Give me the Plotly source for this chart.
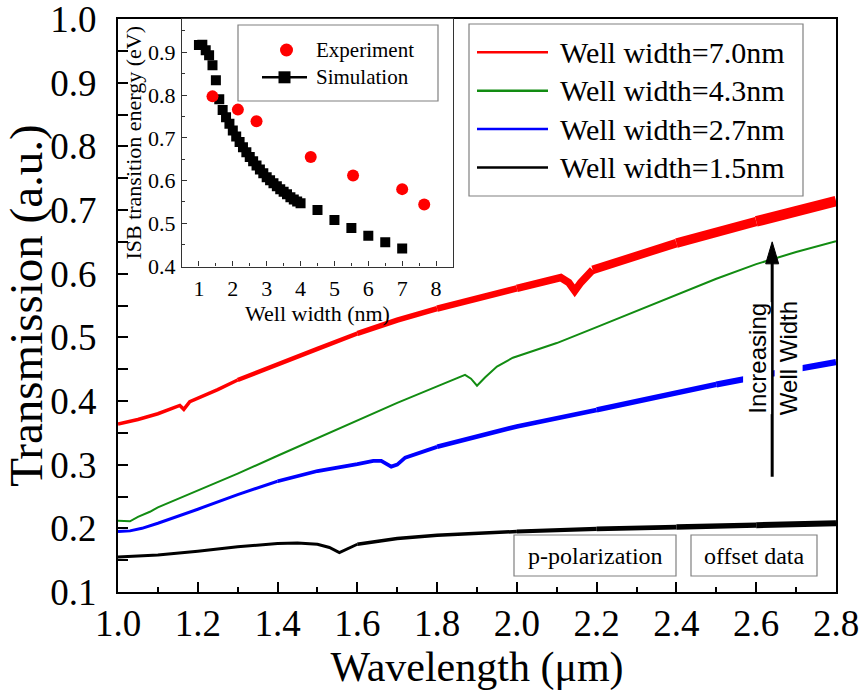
import plotly.graph_objects as go

# ---------------- transmission spectra (offset) ----------------
wl_70 = [1.00, 1.05, 1.10, 1.14, 1.155, 1.165, 1.18, 1.25, 1.30, 1.40, 1.50, 1.60, 1.70,
         1.80, 1.90, 2.00, 2.05, 2.09, 2.11, 2.13, 2.145, 2.16, 2.19, 2.25, 2.30, 2.40,
         2.50, 2.60, 2.70, 2.80]
tr_70 = [0.364, 0.371, 0.380, 0.390, 0.393, 0.387, 0.399, 0.418, 0.433, 0.458, 0.482,
         0.506, 0.527, 0.545, 0.561, 0.577, 0.586, 0.593, 0.594, 0.586, 0.573, 0.586,
         0.606, 0.618, 0.629, 0.648, 0.666, 0.682, 0.698, 0.714]

wl_43 = [1.00, 1.03, 1.05, 1.08, 1.10, 1.20, 1.30, 1.40, 1.50, 1.60, 1.70, 1.80, 1.85,
         1.87, 1.885, 1.90, 1.92, 1.95, 1.99, 2.05, 2.10, 2.20, 2.30, 2.40, 2.50, 2.60,
         2.70, 2.80]
tr_43 = [0.212, 0.211, 0.218, 0.226, 0.233, 0.259, 0.286, 0.314, 0.342, 0.370, 0.397,
         0.423, 0.436, 0.441, 0.435, 0.424, 0.437, 0.454, 0.468, 0.481, 0.491, 0.516,
         0.541, 0.567, 0.592, 0.615, 0.634, 0.651]

wl_27 = [1.00, 1.03, 1.06, 1.10, 1.20, 1.30, 1.40, 1.50, 1.60, 1.64, 1.66, 1.685, 1.70,
         1.72, 1.80, 1.90, 2.00, 2.10, 2.20, 2.30, 2.40, 2.50, 2.60, 2.70, 2.80]
tr_27 = [0.195, 0.196, 0.200, 0.208, 0.230, 0.253, 0.274, 0.290, 0.301, 0.306, 0.306,
         0.297, 0.300, 0.311, 0.328, 0.344, 0.360, 0.373, 0.386, 0.399, 0.412, 0.426,
         0.439, 0.450, 0.461]

wl_15 = [1.00, 1.05, 1.10, 1.20, 1.30, 1.40, 1.45, 1.50, 1.53, 1.555, 1.57, 1.60, 1.65,
         1.70, 1.80, 1.90, 2.00, 2.20, 2.40, 2.60, 2.80]
tr_15 = [0.155, 0.156, 0.158, 0.164, 0.171, 0.176, 0.177, 0.175, 0.170, 0.162, 0.166,
         0.175, 0.180, 0.184, 0.189, 0.192, 0.195, 0.199, 0.202, 0.205, 0.208]

series_names = ["Well width=7.0nm", "Well width=4.3nm", "Well width=2.7nm", "Well width=1.5nm"]

x_ticks = [1.0, 1.2, 1.4, 1.6, 1.8, 2.0, 2.2, 2.4, 2.6, 2.8]
y_ticks = [0.1, 0.2, 0.3, 0.4, 0.5, 0.6, 0.7, 0.8, 0.9, 1.0]

# ---------------- inset: ISB transition energy ----------------
exp_width = [1.4, 2.15, 2.7, 4.3, 5.55, 7.0, 7.65]
exp_energy = [0.797, 0.766, 0.739, 0.655, 0.612, 0.580, 0.544]

sim_width = [1.0, 1.1, 1.2, 1.3, 1.4, 1.5, 1.6, 1.7, 1.8, 1.9, 2.0, 2.1, 2.2, 2.3, 2.4,
             2.5, 2.6, 2.7, 2.8, 2.9, 3.0, 3.1, 3.2, 3.3, 3.4, 3.5, 3.6, 3.7, 3.8, 3.9,
             4.0, 4.5, 5.0, 5.5, 6.0, 6.5, 7.0]
sim_energy = [0.917, 0.918, 0.905, 0.893, 0.870, 0.835, 0.790, 0.765, 0.748, 0.733,
              0.717, 0.703, 0.690, 0.678, 0.666, 0.655, 0.645, 0.635, 0.626, 0.617,
              0.608, 0.601, 0.594, 0.587, 0.580, 0.574, 0.568, 0.561, 0.556, 0.551,
              0.547, 0.531, 0.508, 0.489, 0.471, 0.456, 0.441]

# arrow marking increasing well width (data coordinates)
arrow_wl = 2.64
arrow_tail = 0.281
arrow_tip = 0.650

SERIF = "Liberation Serif"
SANS = "Liberation Sans"
W, H = 865, 691
L, R, T, B = 118, 836, 19, 592          # plot area in pixels


def fx(p):
    return (p - L) / (R - L)


def fy(p):
    return (B - p) / (B - T)


fig = go.Figure()

# noisy spectra get thicker toward long wavelength: drawn in pieces
styles = [
    ("#ff0000", [1.0, 1.3, 1.6, 1.8, 2.0, 2.19, 2.4, 2.6, 2.8], [3.5, 4.5, 5.5, 6.5, 7.5, 8.5, 9.5, 10.5]),
    ("#128c12", [1.0, 2.8], [2]),
    ("#0000ff", [1.0, 1.4, 1.8, 2.2, 2.5, 2.8], [3, 3.8, 4.6, 5.4, 6.2]),
    ("#000000", [1.0, 1.6, 2.0, 2.2, 2.4, 2.6, 2.8], [3, 3.5, 4.2, 4.8, 5.4, 6]),
]
for (wl, tr), name, (color, bounds, widths) in zip(
        [(wl_70, tr_70), (wl_43, tr_43), (wl_27, tr_27), (wl_15, tr_15)], series_names, styles):
    for lo, hi, w in zip(bounds[:-1], bounds[1:], widths):
        idx = [i for i, v in enumerate(wl) if lo - 1e-9 <= v <= hi + 1e-9]
        fig.add_trace(go.Scatter(
            x=[wl[i] for i in idx], y=[tr[i] for i in idx], mode="lines",
            line=dict(color=color, width=w), name=name, showlegend=False,
            xaxis="x", yaxis="y"))

# inset traces
fig.add_trace(go.Scatter(
    x=sim_width, y=sim_energy, mode="markers", name="Simulation",
    marker=dict(symbol="square", size=10, color="black"),
    xaxis="x2", yaxis="y2", showlegend=False))
fig.add_trace(go.Scatter(
    x=exp_width, y=exp_energy, mode="markers", name="Experiment",
    marker=dict(symbol="circle", size=12, color="#ff0000"),
    xaxis="x2", yaxis="y2", showlegend=False))

shapes = []
annotations = []

# main legend
shapes.append(dict(type="rect", xref="paper", yref="paper",
                   x0=fx(469), x1=fx(803), y0=fy(196), y1=fy(24),
                   line=dict(color="#808080", width=1.2), fillcolor="white", layer="above"))
for k, (name, (color, _, _)) in enumerate(zip(series_names, styles)):
    yy = 52.3 + 38.4 * k
    shapes.append(dict(type="line", xref="paper", yref="paper",
                       x0=fx(477), x1=fx(548), y0=fy(yy), y1=fy(yy),
                       line=dict(color=color, width=2.5)))
    annotations.append(dict(xref="paper", yref="paper", x=fx(558), y=fy(yy),
                            xanchor="left", yanchor="middle", text=name, showarrow=False,
                            font=dict(family=SERIF, size=30, color="black")))

# inset legend
shapes.append(dict(type="rect", xref="paper", yref="paper",
                   x0=fx(238), x1=fx(438), y0=fy(101), y1=fy(25),
                   line=dict(color="#808080", width=1.2), fillcolor="white", layer="above"))
shapes.append(dict(type="circle", xref="paper", yref="paper",
                   xsizemode="pixel", ysizemode="pixel",
                   xanchor=fx(286.5), yanchor=fy(50), x0=-6.5, x1=6.5, y0=-6.5, y1=6.5,
                   fillcolor="#ff0000", line=dict(color="#ff0000", width=0)))
shapes.append(dict(type="line", xref="paper", yref="paper",
                   x0=fx(262), x1=fx(307), y0=fy(77.3), y1=fy(77.3),
                   line=dict(color="black", width=2.5)))
shapes.append(dict(type="rect", xref="paper", yref="paper",
                   xsizemode="pixel", ysizemode="pixel",
                   xanchor=fx(284.5), yanchor=fy(77.3), x0=-6, x1=6, y0=-6, y1=6,
                   fillcolor="black", line=dict(color="black", width=0)))
for txt, yy in [("Experiment", 50), ("Simulation", 77.3)]:
    annotations.append(dict(xref="paper", yref="paper", x=fx(314), y=fy(yy),
                            xanchor="left", yanchor="middle", text=txt, showarrow=False,
                            font=dict(family=SERIF, size=21, color="black")))

# boxed notes
for txt, x0, x1 in [("p-polarization", 514, 676), ("offset data", 691, 817)]:
    shapes.append(dict(type="rect", xref="paper", yref="paper",
                       x0=fx(x0), x1=fx(x1), y0=fy(576), y1=fy(535),
                       line=dict(color="#808080", width=1.2), fillcolor="white", layer="above"))
    annotations.append(dict(xref="paper", yref="paper", x=fx((x0 + x1) / 2), y=fy(555.5),
                            xanchor="center", yanchor="middle", text=txt, showarrow=False,
                            font=dict(family=SERIF, size=24, color="black")))

# arrow: shaft and slender head
px_per_um = (R - L) / 1.8
px_per_unit = (B - T) / 0.9
head_len = 22 / px_per_unit
head_half = 6.5 / px_per_um
shapes.append(dict(type="line", xref="x", yref="y",
                   x0=arrow_wl, x1=arrow_wl, y0=arrow_tail, y1=arrow_tip - head_len * 0.8,
                   line=dict(color="black", width=3)))
shapes.append(dict(type="path", xref="x", yref="y",
                   path=(f"M {arrow_wl - head_half},{arrow_tip - head_len} "
                         f"L {arrow_wl},{arrow_tip} L {arrow_wl + head_half},{arrow_tip - head_len} Z"),
                   fillcolor="black", line=dict(color="black", width=1)))
for txt, xw in [("Increasing", 2.601), ("Well Width", 2.680)]:
    annotations.append(dict(xref="x", yref="y", x=xw, y=0.4675, text=txt, showarrow=False,
                            textangle=-90, xanchor="center", yanchor="middle",
                            bgcolor="white", borderpad=0,
                            font=dict(family=SANS, size=24, color="black")))

tick_font = dict(family=SERIF, size=37, color="black")
inset_font = dict(family=SERIF, size=22, color="black")

fig.update_layout(
    width=W, height=H,
    margin=dict(l=L, r=W - R, t=T, b=H - B, autoexpand=False),
    paper_bgcolor="white", plot_bgcolor="white",
    showlegend=False,
    shapes=shapes, annotations=annotations,
    xaxis=dict(
        domain=[0, 1], range=[1.0, 2.8], tickvals=x_ticks, tickformat=".1f",
        showline=True, linecolor="black", linewidth=2, mirror=True,
        ticks="inside", ticklen=10, tickwidth=2, tickcolor="black",
        minor=dict(ticks="inside", dtick=0.1, tick0=1.0, ticklen=5, tickwidth=2,
                   tickcolor="black", showgrid=False),
        showgrid=False, zeroline=False, tickfont=tick_font, ticklabelstandoff=-2,
        ticklabeloverflow="allow",
        title=dict(text="Wavelength (μm)", font=dict(family=SERIF, size=42, color="black"),
                   standoff=8),
        automargin=False,
    ),
    yaxis=dict(
        domain=[0, 1], range=[0.1, 1.0], tickvals=y_ticks, tickformat=".1f",
        showline=True, linecolor="black", linewidth=2, mirror=True,
        ticks="inside", ticklen=10, tickwidth=2, tickcolor="black",
        minor=dict(ticks="inside", dtick=0.05, tick0=0.1, ticklen=10, tickwidth=2,
                   tickcolor="black", showgrid=False),
        showgrid=False, zeroline=False, tickfont=tick_font, ticklabelstandoff=12,
        ticklabeloverflow="allow",
        title=dict(text="Transmission (a.u.)", font=dict(family=SERIF, size=47, color="black"),
                   standoff=0),
        automargin=False,
    ),
    xaxis2=dict(
        domain=[fx(182), fx(453)], anchor="y2", range=[0.5, 8.5], dtick=1, tick0=1,
        showline=True, linecolor="#333333", linewidth=1.2, mirror=True,
        ticks="inside", ticklen=5, tickwidth=1.2, tickcolor="#333333",
        minor=dict(ticks="inside", dtick=0.5, tick0=0.5, ticklen=3, tickwidth=1,
                   tickcolor="#333333", showgrid=False),
        showgrid=False, zeroline=False, tickfont=inset_font, ticklabelstandoff=2,
        title=dict(text="Well width (nm)", font=inset_font, standoff=2),
    ),
    yaxis2=dict(
        domain=[fy(266.5), 1.0], anchor="x2", range=[0.399, 0.978], dtick=0.1, tick0=0.4,
        tickformat=".1f",
        showline=True, linecolor="#333333", linewidth=1.2, mirror=True,
        ticks="inside", ticklen=5, tickwidth=1.2, tickcolor="#333333",
        minor=dict(ticks="inside", dtick=0.05, tick0=0.4, ticklen=3, tickwidth=1,
                   tickcolor="#333333", showgrid=False),
        showgrid=False, zeroline=False, tickfont=inset_font, ticklabelstandoff=1,
        title=dict(text="ISB transition energy (eV)", font=inset_font, standoff=0),
    ),
)

fig.write_html("out.html")
